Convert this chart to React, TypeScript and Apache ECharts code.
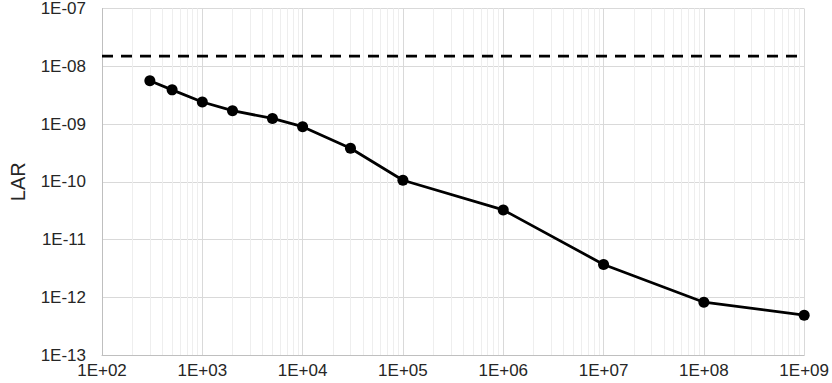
import React, { useEffect, useRef } from "react";
import * as echarts from "echarts";

const activityValues = [300, 500, 1000, 2000, 5000, 1e4, 3e4, 1e5, 1e6, 1e7, 1e8, 1e9];
const larValues = [5.6e-9, 3.9e-9, 2.4e-9, 1.7e-9, 1.25e-9, 9.0e-10, 3.8e-10, 1.06e-10, 3.25e-11, 3.7e-12, 8.2e-13, 4.9e-13];
const limitValue = 1.5e-8;
const xRange = [1e2, 1e9];
const yRange = [1e-13, 1e-7];

function sci(v: number): string {
  const e = Math.round(Math.log10(v));
  const sign = e < 0 ? "-" : "+";
  const a = Math.abs(e);
  return "1E" + sign + (a < 10 ? "0" + a : String(a));
}

function minorLines(lo: number, hi: number): number[] {
  const out: number[] = [];
  for (let d = lo; d < hi; d *= 10) {
    for (let k = 2; k <= 9; k++) out.push(Number((d * k).toPrecision(3)));
  }
  return out;
}

export default function App() {
  const ref = useRef<HTMLDivElement>(null);
  useEffect(() => {
    if (!ref.current) return;
    const chart = echarts.init(ref.current, undefined, { renderer: "svg" });
    const xMinor = minorLines(xRange[0], xRange[1]);
    const yMinor = minorLines(yRange[0], yRange[1]);
    const font = "Liberation Sans, Arial, sans-serif";
    chart.setOption({
      animation: false,
      backgroundColor: "#ffffff",
      grid: { left: 96, right: 24, top: 7, bottom: 28, containLabel: false },
      xAxis: {
        type: "log",
        logBase: 10,
        min: xRange[0],
        max: xRange[1],
        z: 0,
        axisLine: { show: true, lineStyle: { color: "#bfbfbf", width: 1 } },
        axisTick: { show: false },
        splitLine: { show: true, lineStyle: { color: "#d9d9d9", width: 1 } },
        axisLabel: { formatter: (v: number) => sci(v), color: "#262626", fontSize: 17, fontFamily: font, margin: 7, showMaxLabel: true, showMinLabel: true },
      },
      yAxis: {
        type: "log",
        logBase: 10,
        min: yRange[0],
        max: yRange[1],
        z: 0,
        name: "LAR",
        nameLocation: "middle",
        nameGap: 74,
        nameTextStyle: { color: "#262626", fontSize: 20, fontFamily: font },
        axisLine: { show: true, lineStyle: { color: "#bfbfbf", width: 1 } },
        axisTick: { show: false },
        splitLine: { show: true, lineStyle: { color: "#d9d9d9", width: 1 } },
        axisLabel: { formatter: (v: number) => sci(v), color: "#262626", fontSize: 17, fontFamily: font, margin: 16 },
      },
      series: [
        {
          type: "line",
          data: [],
          silent: true,
          z: 0,
          markLine: {
            silent: true,
            z: 0,
            symbol: "none",
            label: { show: false },
            lineStyle: { color: "#eeeeee", width: 1, type: "solid" },
            data: [
              ...xMinor.map((v) => ({ xAxis: v })),
              ...yMinor.map((v) => ({ yAxis: v })),
            ],
          },
        },
        {
          type: "line",
          data: [[xRange[0], limitValue], [xRange[1], limitValue]],
          symbol: "none",
          z: 3,
          lineStyle: { color: "#000000", width: 2.75, type: [11, 8] },
        },
        {
          type: "line",
          data: activityValues.map((x, i) => [x, larValues[i]]),
          symbol: "circle",
          symbolSize: 11,
          z: 4,
          itemStyle: { color: "#000000" },
          lineStyle: { color: "#000000", width: 2.75 },
        },
      ],
    });
    return () => chart.dispose();
  }, []);
  return <div ref={ref} style={{ position: "fixed", left: 0, top: 0, width: 832, height: 383 }} />;
}
